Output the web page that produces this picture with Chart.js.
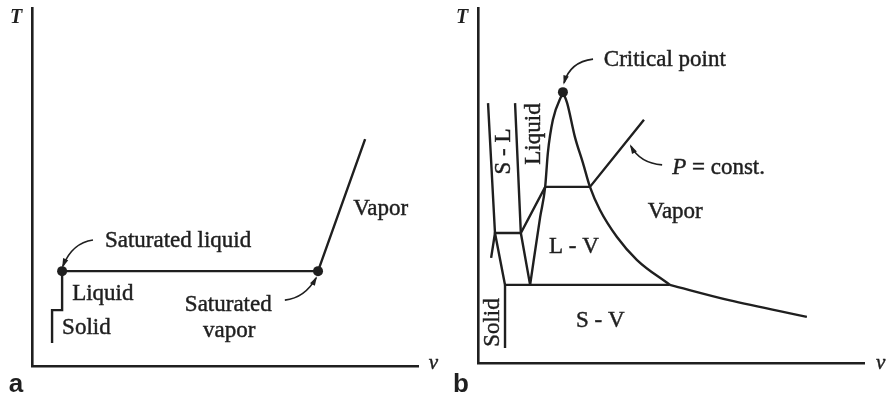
<!DOCTYPE html>
<html lang="en">
<head>
<meta charset="UTF-8">
<title>T-v diagrams</title>
<script src="https://cdn.jsdelivr.net/npm/chart.js"></script>
<style>
  html, body { margin: 0; padding: 0; background: #fff; }
  #wrap { position: relative; width: 891px; height: 398px; }
  canvas { position: absolute; top: 0; filter: blur(0.3px); }
  #chartA { left: 0; }
  #chartB { left: 446px; }
</style>
</head>
<body>
<div id="wrap">
  <canvas id="chartA" width="445" height="398"></canvas>
  <canvas id="chartB" width="445" height="398"></canvas>
</div>
<script>
// ---- panel a : heating at constant pressure (v, T in 0..100 units)
const aHeatV = [5.2, 5.2, 7.8, 7.8, 74.1, 86.3];
const aHeatT = [6.4, 15.6, 15.6, 26.5, 26.5, 63.4];
const aSatV = [7.8, 74.1];
const aSatT = [26.5, 26.5];

// ---- panel b : phase boundaries
const liqDomeV = [13.5, 16.1, 17.4, 18.1, 19.4, 22.0];
const liqDomeT = [22.0, 41.1, 49.6, 59.2, 68.5, 76.3];
const vapDomeV = [22.0, 23.1, 25.1, 27.2, 29.0, 31.6, 36.0, 41.2, 49.7];
const vapDomeT = [76.3, 73.2, 63.7, 56.3, 49.6, 43.1, 35.5, 29.0, 22.0];
const sublimV = [49.7, 65.0, 85.2];
const sublimT = [22.0, 17.7, 13.0];
const meltLeftV = [2.6, 4.4, 7.0];
const meltLeftT = [73.2, 36.6, 22.0];
const meltRightV = [9.6, 11.1, 13.5];
const meltRightT = [73.2, 36.6, 22.0];
const tripleV = [7.0, 49.7];
const tripleT = [22.0, 22.0];
const solidV = [7.0, 7.0];
const solidT = [22.0, 4.2];
const isobarV = [3.4, 4.0, 4.4, 11.1, 17.4, 29.0, 43.0];
const isobarT = [29.6, 33.8, 36.6, 36.6, 49.6, 49.6, 68.5];
const critV = [22.0];
const critT = [76.3];

const ink = '#1f1f1f';
const serif = "'Liberation Serif', 'DejaVu Serif', serif";
const sans = "'Liberation Sans', Arial, sans-serif";

function pts(vs, ts) {
  return vs.map((v, i) => ({ x: v, y: ts[i] }));
}

function line(vs, ts, smooth) {
  return {
    data: pts(vs, ts), showLine: true, borderColor: ink, borderWidth: 2.4,
    pointRadius: 0, clip: false,
    tension: smooth ? 0.4 : 0,
    cubicInterpolationMode: smooth ? 'monotone' : 'default'
  };
}

function dots(vs, ts) {
  return {
    data: pts(vs, ts), showLine: false, pointRadius: 5,
    pointBackgroundColor: ink, pointBorderColor: ink, pointBorderWidth: 0, clip: false
  };
}

// text and curved arrows placed in data units
function notes(labels, arrows) {
  return {
    id: 'notes',
    afterDatasetsDraw(chart) {
      const { ctx, scales: { x, y } } = chart;
      ctx.save();
      ctx.fillStyle = ink;
      ctx.strokeStyle = ink;
      ctx.lineWidth = 1.6;
      arrows.forEach(a => {
        const x0 = x.getPixelForValue(a[0]), y0 = y.getPixelForValue(a[1]);
        const cx = x.getPixelForValue(a[2]), cy = y.getPixelForValue(a[3]);
        const x1 = x.getPixelForValue(a[4]), y1 = y.getPixelForValue(a[5]);
        ctx.beginPath();
        ctx.moveTo(x0, y0);
        ctx.quadraticCurveTo(cx, cy, x1, y1);
        ctx.stroke();
        const ang = Math.atan2(y1 - cy, x1 - cx);
        ctx.beginPath();
        ctx.moveTo(x1 + Math.cos(ang) * 2, y1 + Math.sin(ang) * 2);
        ctx.lineTo(x1 - Math.cos(ang - 0.35) * 8, y1 - Math.sin(ang - 0.35) * 8);
        ctx.lineTo(x1 - Math.cos(ang + 0.35) * 8, y1 - Math.sin(ang + 0.35) * 8);
        ctx.closePath();
        ctx.fill();
      });
      // slight outline thickens the serif text like the printed original
      ctx.lineWidth = 0.45;
      const put = (t, px, py) => { ctx.fillText(t, px, py); ctx.strokeText(t, px, py); };
      labels.forEach(l => {
        const px = x.getPixelForValue(l.v), py = y.getPixelForValue(l.t);
        ctx.font = l.font || ('23px ' + serif);
        if (l.rot) {
          ctx.save();
          ctx.translate(px, py);
          ctx.rotate(-Math.PI / 2);
          ctx.textAlign = 'center';
          ctx.textBaseline = 'middle';
          put(l.text, 0, 0);
          ctx.restore();
        } else if (l.pre) {
          ctx.textAlign = 'left';
          ctx.textBaseline = 'alphabetic';
          ctx.font = 'italic 23px ' + serif;
          put(l.pre, px, py);
          const w = ctx.measureText(l.pre).width;
          ctx.font = '23px ' + serif;
          put(l.text, px + w, py);
        } else {
          ctx.textAlign = 'left';
          ctx.textBaseline = 'alphabetic';
          if (l.plain) ctx.fillText(l.text, px, py);
          else put(l.text, px, py);
        }
      });
      ctx.restore();
    }
  };
}

const axisItalic = 'italic bold 20px ' + serif;
const panelFont = 'bold 26px ' + sans;

const aLabels = [
  { text: 'Saturated liquid', v: 18.9, t: 33.2 },
  { text: 'Liquid', v: 10.4, t: 18.4 },
  { text: 'Solid', v: 7.8, t: 8.9 },
  { text: 'Saturated', v: 39.6, t: 15.4 },
  { text: 'vapor', v: 44.3, t: 8.1 },
  { text: 'Vapor', v: 83.2, t: 42.2 },
  { text: 'T', v: -5.7, t: 95.8, font: axisItalic, plain: true },
  { text: 'v', v: 102.8, t: -0.8, font: 'italic 21px ' + serif },
  { text: 'a', v: -6.0, t: -7.3, font: panelFont, plain: true }
];
const aArrows = [
  [15.8, 35.2, 10.4, 34.4, 8.0, 27.9],
  [65.5, 18.4, 70.7, 19.0, 73.6, 24.6]
];

const bLabels = [
  { text: 'Critical point', v: 32.6, t: 83.7 },
  { text: ' = const.', pre: 'P', v: 50.3, t: 53.2 },
  { text: 'Vapor', v: 44.0, t: 40.8 },
  { text: 'L - V', v: 18.4, t: 31.0 },
  { text: 'S - V', v: 25.4, t: 10.1 },
  { text: 'S - L', v: 6.6, t: 59.6, rot: true },
  { text: 'Liquid', v: 14.5, t: 64.5, rot: true },
  { text: 'Solid', v: 4.0, t: 11.4, rot: true },
  { text: 'T', v: -5.7, t: 95.8, font: axisItalic, plain: true },
  { text: 'v', v: 103.1, t: -1.7, font: 'italic 21px ' + serif },
  { text: 'b', v: -6.5, t: -8.2, font: panelFont, plain: true }
];
const bArrows = [
  [29.8, 85.6, 23.8, 84.8, 22.3, 78.9],
  [47.7, 55.8, 42.0, 56.3, 39.6, 61.1]
];

function axis() {
  return {
    type: 'linear', min: 0, max: 100,
    grid: { display: false, drawTicks: false },
    ticks: { display: false },
    border: { display: true, color: ink, width: 2.6 }
  };
}

function makeChart(id, datasets, padding, labels, arrows) {
  return new Chart(document.getElementById(id), {
    type: 'scatter',
    data: { datasets: datasets },
    options: {
      responsive: false,
      animation: false,
      devicePixelRatio: 1,
      layout: { padding: padding },
      plugins: { legend: { display: false }, tooltip: { enabled: false } },
      scales: { x: axis(), y: axis() }
    },
    plugins: [notes(labels, arrows)]
  });
}

makeChart('chartA', [
  line(aHeatV, aHeatT),
  dots(aSatV, aSatT)
], { left: 32, top: 8, right: 27, bottom: 32 }, aLabels, aArrows);

makeChart('chartB', [
  line(liqDomeV, liqDomeT, true),
  line(vapDomeV, vapDomeT, true),
  line(sublimV, sublimT, true),
  line(meltLeftV, meltLeftT),
  line(meltRightV, meltRightT),
  line(tripleV, tripleT),
  line(solidV, solidT),
  line(isobarV, isobarT),
  dots(critV, critT)
], { left: 32, top: 8, right: 27, bottom: 35 }, bLabels, bArrows);
</script>
</body>
</html>
